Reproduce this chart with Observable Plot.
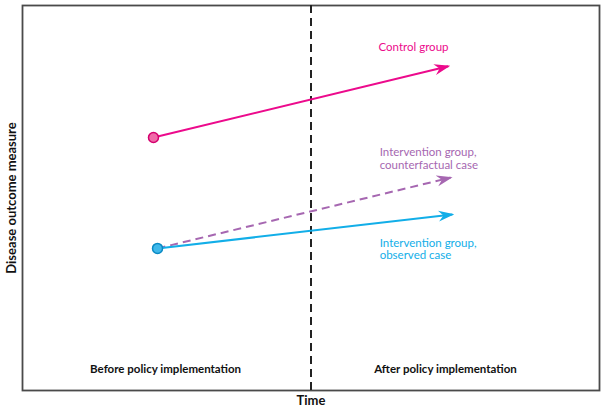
<!DOCTYPE html>
<html>
<head>
<meta charset="utf-8">
<script src="https://cdn.jsdelivr.net/npm/d3@7"></script>
<script src="https://cdn.jsdelivr.net/npm/@observablehq/plot@0.6"></script>
<style>
  body { margin: 0; background: #fff; }
  #chart svg { display: block; }
</style>
</head>
<body>
<div id="chart"></div>
<script>
// Data (arbitrary units)
const startTimes = [2.27, 2.34, 2.34];
const endTimes = [7.38, 7.42, 7.45];
const startValues = [6.57, 3.69, 3.69];
const endValues = [8.42, 5.53, 4.57];
const seriesNames = ["control", "counterfactual", "observed"];
const policyTime = 5;
const phaseLabels = ["Before policy implementation", "After policy implementation"];
const phaseTimes = [2.48, 7.33];

const colors = {control: "#ec0a8c", counterfactual: "#a667b1", observed: "#12aee8"};

const segments = seriesNames.map((s, i) => ({
  series: s, x1: startTimes[i], y1: startValues[i], x2: endTimes[i], y2: endValues[i]
}));

function barb(color, context) {
  const doc = (context && context.document) || document;
  const ns = "http://www.w3.org/2000/svg";
  const m = doc.createElementNS(ns, "marker");
  m.setAttribute("viewBox", "-14 -6 16 12");
  m.setAttribute("markerWidth", 16);
  m.setAttribute("markerHeight", 12);
  m.setAttribute("markerUnits", "userSpaceOnUse");
  m.setAttribute("orient", "auto");
  m.setAttribute("refX", 0);
  m.setAttribute("refY", 0);
  const p = doc.createElementNS(ns, "path");
  p.setAttribute("d", "M-14,-5.5 L2,0 L-14,5.5 L-9,0 Z");
  p.setAttribute("fill", color);
  p.setAttribute("stroke", "none");
  m.appendChild(p);
  return m;
}

const labelFont = "Lato, 'Open Sans', sans-serif";

const plot = Plot.plot({
  width: 604,
  height: 412,
  marginLeft: 22,
  marginRight: 5,
  marginTop: 5,
  marginBottom: 22,
  x: {domain: [0, 10], axis: null},
  y: {domain: [0, 10], axis: null},
  style: {fontFamily: labelFont, background: "#fff"},
  marks: [
    Plot.frame({stroke: "#4a4a4a", strokeWidth: 1.8}),
    Plot.ruleX([policyTime], {stroke: "#222", strokeWidth: 2, strokeDasharray: "8,5"}),
    Plot.link(segments.filter(d => d.series === "counterfactual"), {
      x1: "x1", y1: "y1", x2: "x2", y2: "y2",
      stroke: colors.counterfactual, strokeWidth: 2, strokeDasharray: "8,5", markerEnd: barb
    }),
    Plot.link(segments.filter(d => d.series !== "counterfactual"), {
      x1: "x1", y1: "y1", x2: "x2", y2: "y2",
      stroke: d => colors[d.series], strokeWidth: 2, markerEnd: barb
    }),
    Plot.dot([segments[0]], {x: "x1", y: "y1", r: 5, fill: "#f06aa8", stroke: "#d4006e", strokeWidth: 1.5}),
    Plot.dot([segments[2]], {x: "x1", y: "y1", r: 5, fill: "#3fb8ea", stroke: "#0a8ac4", strokeWidth: 1.5}),
    Plot.text(["Control group"], {x: 6.17, y: 8.91, textAnchor: "start", fill: colors.control, fontSize: 11.5}),
    Plot.text(["Intervention group,\ncounterfactual case"], {x: 6.19, y: 6.03, textAnchor: "start", fill: colors.counterfactual, fontSize: 11.5, lineHeight: 1.1}),
    Plot.text(["Intervention group,\nobserved case"], {x: 6.19, y: 3.68, textAnchor: "start", fill: colors.observed, fontSize: 11.5, lineHeight: 1.1}),
    Plot.text(phaseLabels, {x: (d, i) => phaseTimes[i], y: 0.55, fontWeight: "bold", fontSize: 11.5, fill: "#111"}),
    Plot.text(["Time"], {frameAnchor: "bottom", dy: 14, fontWeight: "bold", fontSize: 13, fill: "#111"}),
    Plot.text(["Disease outcome measure"], {frameAnchor: "left", textAnchor: "middle", dx: -11, rotate: -90, fontWeight: "bold", fontSize: 13, fill: "#111"})
  ]
});
document.getElementById("chart").appendChild(plot);
</script>
</body>
</html>
